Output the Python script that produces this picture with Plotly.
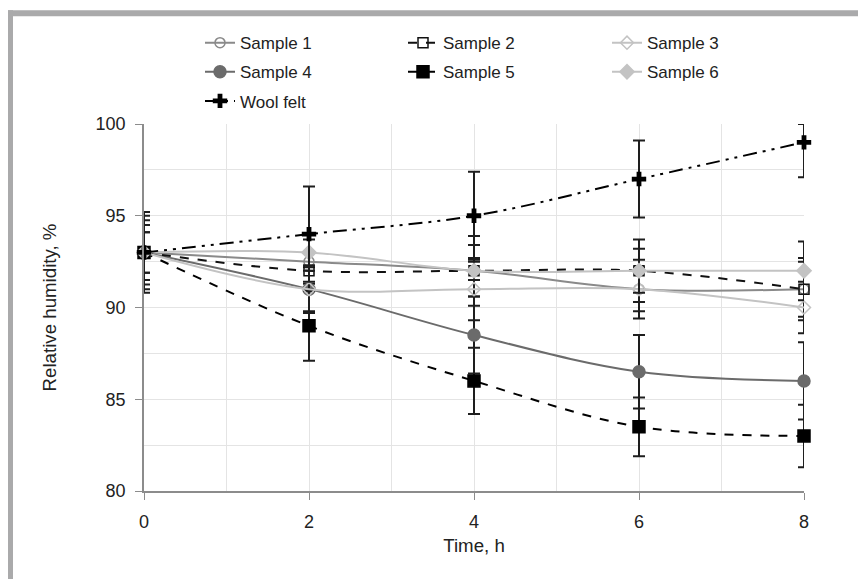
import plotly.graph_objects as go

# Time points (h)
time_h = [0, 2, 4, 6, 8]

# Relative humidity (%) per sample
sample_1 = [93, 92.5, 92, 91, 91]
sample_2 = [93, 92, 92, 92, 91]
sample_3 = [93, 91, 91, 91, 90]
sample_4 = [93, 91, 88.5, 86.5, 86]
sample_5 = [93, 89, 86, 83.5, 83]
sample_6 = [93, 93, 92, 92, 92]
wool_felt = [93, 94, 95, 97, 99]

# Error bars
err_1 = [1.5, 1.2, 1.4, 1.6, 1.5]
err_2 = [1.75, 1.0, 1.9, 1.7, 1.7]
err_3 = [1.1, 1.3, 1.7, 1.2, 1.4]
err_4 = [2.0, 1.2, 2.1, 2.0, 2.1]
err_5 = [1.5, 1.9, 1.8, 1.6, 1.7]
err_6 = [1.1, 1.0, 0.5, 1.2, 1.6]
err_wool_up = [2.2, 2.6, 2.4, 2.1, 1.0]
err_wool_down = [2.2, 2.6, 2.4, 2.1, 1.9]

FONT = "Liberation Sans, Arial, sans-serif"
OFF = 8  # page body margin
W, H = 866 - OFF, 579 - OFF
# plot area in screen pixels: x 144..804, y 124..491.5
L, R, T, B = 144 - OFF, 62, 124 - OFF, 87.5
PW, PH = 660, 367.5


def px_x(px):
    return (px - 144) / PW


def px_y(py):
    return (491.5 - py) / PH


series = [
    # name, y, err, color, dash, symbol, size, fill, legend
    ("Sample 1", sample_1, err_1, "#8a8a8a", "solid", "circle-open", 10, None, "legend"),
    ("Sample 4", sample_4, err_4, "#6b6b6b", "solid", "circle", 12, "#6b6b6b", "legend"),
    ("Sample 2", sample_2, err_2, "#111111", "dash", "square-open", 10, None, "legend2"),
    ("Sample 5", sample_5, err_5, "#000000", "dash", "square", 12, "#000000", "legend2"),
    ("Sample 3", sample_3, err_3, "#c3c3c3", "solid", "diamond-open", 10, None, "legend3"),
    ("Sample 6", sample_6, err_6, "#c3c3c3", "solid", "diamond", 11, "#c3c3c3", "legend3"),
]

fig = go.Figure()

for name, y, err, color, dash, symbol, size, fill, leg in series:
    fig.add_trace(go.Scatter(
        x=time_h, y=y, name=name, mode="lines+markers",
        line=dict(color=color, width=2, dash=dash, shape="spline"),
        marker=dict(symbol=symbol, size=size, color=fill if fill else color,
                    line=dict(color=color, width=1.5)),
        error_y=dict(type="data", array=err, visible=True,
                     color="#1e1e1e", thickness=2, width=6),
        legend=leg, legendgroup=name, cliponaxis=False,
    ))

fig.add_trace(go.Scatter(
    x=time_h, y=wool_felt, name="Wool felt", mode="lines+markers",
    line=dict(color="#000000", width=2, dash="14px,6px,3px,6px,3px,6px",
              shape="spline"),
    marker=dict(symbol="cross", size=12, color="#000000"),
    error_y=dict(type="data", symmetric=False, array=err_wool_up,
                 arrayminus=err_wool_down, visible=True,
                 color="#1e1e1e", thickness=2, width=6),
    legend="legend", legendgroup="Wool felt", cliponaxis=False,
))

legend_common = dict(
    orientation="v", yanchor="top", y=px_y(25), xanchor="left",
    font=dict(family=FONT, size=17, color="#222222"),
    bgcolor="rgba(0,0,0,0)", tracegroupgap=4, traceorder="grouped",
)

title_font = dict(family=FONT, size=18.7, color="#222222")
tick_font = dict(family=FONT, size=18, color="#222222")

fig.update_layout(
    width=W, height=H,
    margin=dict(l=L, r=R, t=T, b=B, pad=0),
    plot_bgcolor="white", paper_bgcolor="white",
    font=dict(family=FONT, size=17, color="#222222"),
    legend=dict(x=px_x(200), **legend_common),
    legend2=dict(x=px_x(403), **legend_common),
    legend3=dict(x=px_x(607), **legend_common),
    xaxis=dict(
        title=dict(text="Time, h", standoff=8, font=title_font),
        range=[0, 8], dtick=2, tick0=0,
        tickfont=tick_font,
        showline=True, linecolor="#8c8c8c", linewidth=1.5,
        ticks="outside", ticklen=7, tickcolor="#8c8c8c",
        ticklabelstandoff=7,
        showgrid=True, gridcolor="#e4e4e4", gridwidth=1,
        minor=dict(dtick=1, showgrid=True, gridcolor="#e4e4e4"),
        zeroline=False,
    ),
    yaxis=dict(
        title=dict(text="Relative humidity, %", standoff=34, font=title_font),
        range=[80, 100], dtick=5,
        tickfont=tick_font,
        showline=True, linecolor="#8c8c8c", linewidth=1.5,
        ticks="outside", ticklen=7, tickcolor="#8c8c8c",
        ticklabelstandoff=6,
        showgrid=True, gridcolor="#e4e4e4", gridwidth=1,
        minor=dict(dtick=2.5, showgrid=True, gridcolor="#e4e4e4"),
        zeroline=False,
    ),
    shapes=[
        dict(type="rect", xref="paper", yref="paper", layer="above",
             x0=px_x(7), x1=px_x(870), y0=px_y(16), y1=px_y(10),
             fillcolor="#aaaaab", line=dict(width=0)),
        dict(type="rect", xref="paper", yref="paper", layer="above",
             x0=px_x(7), x1=px_x(13), y0=px_y(585), y1=px_y(10),
             fillcolor="#aaaaab", line=dict(width=0)),
    ],
)

fig.write_html("out.html")
